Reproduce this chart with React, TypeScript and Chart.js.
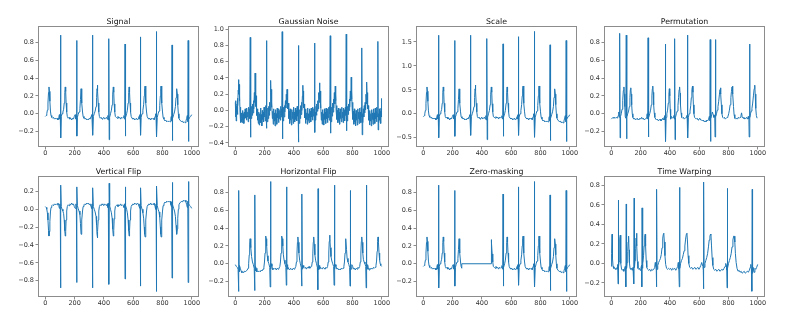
import React, { useEffect, useRef } from "react";
import { Chart, registerables } from "chart.js";
Chart.register(...registerables);

type P = [number, number][];

const xTicks = [0, 200, 400, 600, 800, 1000];
const signalTicks = [-0.2, 0, 0.2, 0.4, 0.6, 0.8];
const noiseTicks = [-0.4, -0.2, 0, 0.2, 0.4, 0.6, 0.8, 1.0];
const scaleTicks = [-0.5, 0, 0.5, 1.0, 1.5];
const vflipTicks = [-0.8, -0.6, -0.4, -0.2, 0, 0.2];
const warpTicks = [-0.2, 0, 0.2, 0.4, 0.6, 0.8];

const titles = ["Signal", "Gaussian Noise", "Scale", "Permutation", "Vertical Flip", "Horizontal Flip", "Zero-masking", "Time Warping"];

const signal: P = [[0,-0.03],[6,-0.02],[10,0.0],[14,0.04],[18,0.12],[22,0.24],[25,0.30],[28,0.25],[31,0.14],[35,0.03],[39,-0.02],[44,-0.04],[50,-0.05],[56,-0.04],[62,-0.06],[68,-0.05],[74,-0.06],[80,-0.05],[86,-0.07],[92,-0.04],[96,-0.01],[99,-0.06],[102,-0.03],[104,0.88],[106,-0.27],[109,-0.03],[114,0.0],[120,0.02],[125,0.05],[129,0.12],[133,0.24],[136,0.30],[139,0.25],[142,0.12],[146,0.02],[150,-0.03],[156,-0.05],[162,-0.04],[168,-0.06],[174,-0.05],[180,-0.07],[186,-0.05],[192,-0.06],[198,-0.03],[204,-0.01],[209,-0.06],[212,-0.02],[214,0.82],[216,-0.25],[219,-0.04],[224,-0.01],[230,0.02],[236,0.06],[240,0.16],[244,0.28],[247,0.24],[250,0.12],[254,0.02],[258,-0.03],[264,-0.05],[270,-0.06],[276,-0.05],[282,-0.07],[288,-0.06],[294,-0.07],[300,-0.05],[306,-0.06],[312,-0.03],[316,-0.01],[319,-0.06],[321,-0.02],[323,0.88],[325,-0.24],[328,-0.03],[334,0.0],[340,0.03],[346,0.08],[350,0.18],[353,0.28],[355,0.32],[358,0.25],[361,0.12],[365,0.02],[369,-0.03],[375,-0.05],[381,-0.04],[387,-0.06],[393,-0.05],[399,-0.04],[405,-0.06],[411,-0.05],[417,-0.04],[423,-0.06],[427,-0.02],[430,-0.07],[432,-0.03],[434,0.84],[436,-0.29],[439,-0.04],[445,0.0],[451,0.04],[456,0.10],[460,0.22],[464,0.30],[467,0.24],[470,0.11],[474,0.02],[478,-0.03],[484,-0.04],[490,-0.05],[496,-0.03],[502,-0.05],[508,-0.04],[514,-0.06],[520,-0.04],[526,-0.05],[532,-0.04],[537,-0.02],[540,-0.06],[542,-0.02],[544,0.78],[546,-0.25],[549,-0.04],[555,0.0],[560,0.04],[565,0.12],[569,0.24],[572,0.30],[575,0.24],[578,0.12],[582,0.02],[586,-0.03],[592,-0.05],[598,-0.06],[604,-0.05],[610,-0.07],[616,-0.06],[622,-0.05],[628,-0.07],[634,-0.06],[640,-0.03],[644,-0.01],[646,-0.06],[647,-0.02],[649,0.86],[651,-0.24],[654,-0.04],[660,0.0],[666,0.04],[671,0.10],[675,0.20],[678,0.28],[681,0.31],[684,0.24],[687,0.12],[691,0.02],[695,-0.03],[701,-0.05],[707,-0.06],[713,-0.05],[719,-0.07],[725,-0.05],[731,-0.06],[737,-0.05],[743,-0.07],[749,-0.03],[753,0.0],[756,-0.06],[757,-0.02],[759,0.92],[761,-0.26],[764,-0.04],[770,0.0],[776,0.03],[781,0.09],[785,0.20],[788,0.28],[790,0.31],[793,0.24],[796,0.12],[800,0.02],[804,-0.04],[810,-0.06],[816,-0.08],[822,-0.07],[828,-0.09],[834,-0.08],[840,-0.09],[846,-0.08],[852,-0.09],[857,-0.05],[860,-0.03],[862,-0.08],[863,-0.04],[865,0.77],[867,-0.30],[870,-0.05],[876,-0.01],[882,0.02],[888,0.08],[892,0.18],[895,0.25],[898,0.28],[901,0.22],[904,0.10],[908,0.0],[912,-0.05],[918,-0.07],[924,-0.08],[930,-0.09],[936,-0.08],[942,-0.10],[948,-0.09],[954,-0.10],[960,-0.08],[965,-0.05],[969,-0.02],[972,-0.09],[973,-0.05],[975,0.82],[977,-0.31],[980,-0.06],[986,-0.04],[992,-0.03],[999,-0.01]];

const gaussianNoise: P = [[0,0.10],[2,-0.08],[4,0.12],[6,-0.13],[8,0.05],[10,-0.02],[12,0.08],[14,-0.05],[16,0.15],[18,0.06],[20,0.25],[22,0.38],[24,0.20],[26,0.32],[28,0.12],[30,0.18],[32,-0.02],[34,0.04],[36,-0.15],[38,-0.02],[40,-0.14],[43,-0.03],[46,-0.15],[49,0.0],[52,-0.12],[55,-0.04],[58,-0.16],[61,-0.02],[64,-0.10],[67,0.02],[70,-0.09],[73,-0.01],[76,-0.12],[79,0.03],[82,-0.08],[85,-0.02],[88,-0.14],[91,0.04],[94,-0.06],[97,0.02],[100,-0.10],[102,0.90],[104,-0.33],[106,0.0],[109,-0.10],[112,0.05],[115,-0.06],[118,0.08],[121,-0.03],[124,0.12],[127,0.02],[130,0.22],[133,0.10],[135,0.46],[137,0.12],[139,0.22],[141,0.05],[143,0.18],[145,-0.06],[148,0.02],[151,-0.12],[154,-0.03],[157,-0.16],[160,-0.02],[163,-0.18],[166,-0.04],[169,-0.12],[172,0.03],[175,-0.15],[178,-0.05],[181,-0.19],[184,0.0],[187,-0.11],[190,-0.02],[193,-0.14],[196,0.04],[199,-0.08],[202,0.02],[205,-0.13],[208,0.06],[210,-0.05],[212,0.86],[214,-0.22],[216,-0.02],[219,-0.14],[222,0.03],[225,-0.10],[228,0.05],[231,-0.06],[234,0.10],[237,0.0],[240,0.20],[242,0.37],[244,0.14],[246,0.26],[248,0.04],[250,0.10],[253,-0.10],[256,-0.01],[259,-0.17],[262,0.02],[265,-0.13],[268,-0.03],[271,-0.19],[274,0.01],[277,-0.12],[280,-0.04],[283,-0.17],[286,0.03],[289,-0.09],[292,-0.01],[295,-0.15],[298,0.02],[301,-0.10],[304,0.0],[307,-0.12],[310,0.05],[313,-0.08],[316,0.02],[318,-0.06],[320,0.97],[322,-0.35],[324,-0.04],[327,-0.13],[330,0.04],[333,-0.08],[336,0.06],[339,-0.02],[342,0.12],[345,0.03],[348,0.20],[351,0.08],[353,0.26],[355,0.10],[357,0.22],[359,0.02],[362,0.09],[365,-0.10],[368,-0.01],[371,-0.16],[374,0.02],[377,-0.12],[380,-0.03],[383,-0.18],[386,0.01],[389,-0.10],[392,-0.02],[395,-0.16],[398,0.04],[401,-0.09],[404,-0.02],[407,-0.14],[410,0.03],[413,-0.11],[416,0.0],[419,-0.13],[422,0.05],[425,-0.07],[428,0.02],[430,0.80],[432,-0.39],[434,-0.05],[437,-0.16],[440,0.01],[443,-0.10],[446,0.06],[449,-0.05],[452,0.10],[455,0.0],[458,0.18],[461,0.31],[463,0.12],[465,0.24],[467,0.03],[470,0.08],[473,-0.09],[476,0.0],[479,-0.16],[482,0.02],[485,-0.11],[488,-0.03],[491,-0.17],[494,0.03],[497,-0.12],[500,-0.04],[503,-0.15],[506,0.02],[509,-0.09],[512,-0.01],[515,-0.14],[518,0.03],[521,-0.08],[524,0.01],[527,-0.12],[530,0.04],[533,-0.07],[536,0.02],[539,-0.10],[541,0.83],[543,-0.27],[545,-0.02],[548,-0.12],[551,0.05],[554,-0.06],[557,0.08],[560,-0.01],[563,0.12],[566,0.02],[569,0.22],[572,0.10],[575,0.34],[577,0.14],[579,0.24],[581,0.03],[584,0.08],[587,-0.12],[590,-0.02],[593,-0.17],[596,0.01],[599,-0.13],[602,-0.04],[605,-0.18],[608,0.02],[611,-0.11],[614,-0.02],[617,-0.16],[620,0.03],[623,-0.10],[626,-0.01],[629,-0.15],[632,0.02],[635,-0.09],[638,0.04],[641,-0.12],[644,0.05],[646,-0.04],[648,0.92],[650,-0.28],[652,-0.03],[655,-0.14],[658,0.04],[661,-0.07],[664,0.09],[667,-0.02],[670,0.14],[673,0.03],[676,0.22],[679,0.08],[682,0.30],[684,0.12],[686,0.20],[688,0.0],[691,0.06],[694,-0.11],[697,0.0],[700,-0.15],[703,0.03],[706,-0.12],[709,-0.02],[712,-0.17],[715,0.02],[718,-0.10],[721,-0.01],[724,-0.14],[727,0.04],[730,-0.09],[733,-0.02],[736,-0.15],[739,0.03],[742,-0.10],[745,0.01],[748,-0.13],[751,0.04],[754,-0.06],[757,0.94],[759,-0.25],[761,-0.03],[764,-0.13],[767,0.05],[770,-0.05],[773,0.08],[776,0.0],[779,0.14],[782,0.04],[785,0.24],[788,0.12],[791,0.41],[793,0.14],[795,0.25],[797,0.04],[800,0.10],[803,-0.11],[806,-0.01],[809,-0.17],[812,0.02],[815,-0.14],[818,-0.04],[821,-0.19],[824,0.0],[827,-0.12],[830,-0.03],[833,-0.18],[836,0.02],[839,-0.10],[842,-0.02],[845,-0.16],[848,0.03],[851,-0.12],[854,-0.02],[857,-0.15],[860,0.04],[862,-0.08],[864,0.77],[866,-0.30],[868,-0.04],[871,-0.15],[874,0.02],[877,-0.08],[880,0.06],[883,-0.03],[886,0.10],[889,0.01],[892,0.20],[895,0.08],[898,0.35],[900,0.12],[902,0.22],[904,0.02],[907,0.06],[910,-0.12],[913,-0.02],[916,-0.18],[919,0.0],[922,-0.13],[925,-0.04],[928,-0.19],[931,0.01],[934,-0.11],[937,-0.03],[940,-0.17],[943,0.02],[946,-0.12],[949,-0.03],[952,-0.16],[955,0.03],[958,-0.10],[961,-0.01],[964,-0.14],[967,0.04],[970,-0.08],[973,0.85],[975,-0.24],[977,-0.04],[980,-0.15],[983,0.02],[986,-0.12],[989,-0.01],[992,-0.16],[995,0.03],[997,-0.08],[999,0.15]];

const scaled: P = [[0,-0.06],[6,-0.04],[10,0.0],[14,0.07],[18,0.22],[22,0.45],[25,0.56],[28,0.47],[31,0.26],[35,0.06],[39,-0.04],[44,-0.07],[50,-0.09],[56,-0.07],[62,-0.11],[68,-0.09],[74,-0.11],[80,-0.09],[86,-0.13],[92,-0.07],[96,-0.02],[99,-0.11],[102,-0.06],[104,1.64],[106,-0.50],[109,-0.06],[114,0.0],[120,0.04],[125,0.09],[129,0.22],[133,0.45],[136,0.56],[139,0.47],[142,0.22],[146,0.04],[150,-0.06],[156,-0.09],[162,-0.07],[168,-0.11],[174,-0.09],[180,-0.13],[186,-0.09],[192,-0.11],[198,-0.06],[204,-0.02],[209,-0.11],[212,-0.04],[214,1.53],[216,-0.47],[219,-0.07],[224,-0.02],[230,0.04],[236,0.11],[240,0.30],[244,0.52],[247,0.45],[250,0.22],[254,0.04],[258,-0.06],[264,-0.09],[270,-0.11],[276,-0.09],[282,-0.13],[288,-0.11],[294,-0.13],[300,-0.09],[306,-0.11],[312,-0.06],[316,-0.02],[319,-0.11],[321,-0.04],[323,1.64],[325,-0.45],[328,-0.06],[334,0.0],[340,0.06],[346,0.15],[350,0.34],[353,0.52],[355,0.60],[358,0.47],[361,0.22],[365,0.04],[369,-0.06],[375,-0.09],[381,-0.07],[387,-0.11],[393,-0.09],[399,-0.07],[405,-0.11],[411,-0.09],[417,-0.07],[423,-0.11],[427,-0.04],[430,-0.13],[432,-0.06],[434,1.57],[436,-0.54],[439,-0.07],[445,0.0],[451,0.07],[456,0.19],[460,0.41],[464,0.56],[467,0.45],[470,0.21],[474,0.04],[478,-0.06],[484,-0.07],[490,-0.09],[496,-0.06],[502,-0.09],[508,-0.07],[514,-0.11],[520,-0.07],[526,-0.09],[532,-0.07],[537,-0.04],[540,-0.11],[542,-0.04],[544,1.46],[546,-0.47],[549,-0.07],[555,0.0],[560,0.07],[565,0.22],[569,0.45],[572,0.56],[575,0.45],[578,0.22],[582,0.04],[586,-0.06],[592,-0.09],[598,-0.11],[604,-0.09],[610,-0.13],[616,-0.11],[622,-0.09],[628,-0.13],[634,-0.11],[640,-0.06],[644,-0.02],[646,-0.11],[647,-0.04],[649,1.61],[651,-0.45],[654,-0.07],[660,0.0],[666,0.07],[671,0.19],[675,0.37],[678,0.52],[681,0.58],[684,0.45],[687,0.22],[691,0.04],[695,-0.06],[701,-0.09],[707,-0.11],[713,-0.09],[719,-0.13],[725,-0.09],[731,-0.11],[737,-0.09],[743,-0.13],[749,-0.06],[753,0.0],[756,-0.11],[757,-0.04],[759,1.72],[761,-0.49],[764,-0.07],[770,0.0],[776,0.06],[781,0.17],[785,0.37],[788,0.52],[790,0.58],[793,0.45],[796,0.22],[800,0.04],[804,-0.07],[810,-0.11],[816,-0.15],[822,-0.13],[828,-0.17],[834,-0.15],[840,-0.17],[846,-0.15],[852,-0.17],[857,-0.09],[860,-0.06],[862,-0.15],[863,-0.07],[865,1.44],[867,-0.56],[870,-0.09],[876,-0.02],[882,0.04],[888,0.15],[892,0.34],[895,0.47],[898,0.52],[901,0.41],[904,0.19],[908,0.0],[912,-0.09],[918,-0.13],[924,-0.15],[930,-0.17],[936,-0.15],[942,-0.19],[948,-0.17],[954,-0.19],[960,-0.15],[965,-0.09],[969,-0.04],[972,-0.17],[973,-0.09],[975,1.53],[977,-0.58],[980,-0.11],[986,-0.07],[992,-0.06],[999,-0.02]];

const permutation: P = [[0,-0.06],[6,-0.05],[12,-0.04],[18,-0.05],[24,-0.04],[30,-0.05],[36,-0.04],[42,-0.05],[47,-0.02],[51,0.02],[54,-0.04],[56,-0.02],[58,0.90],[60,-0.27],[63,-0.03],[68,0.0],[73,0.05],[78,0.15],[82,0.26],[86,0.30],[89,0.22],[92,0.08],[95,-0.03],[98,-0.05],[100,-0.02],[102,0.88],[104,-0.28],[107,-0.03],[112,0.0],[118,0.03],[123,0.08],[127,0.18],[130,0.27],[133,0.29],[136,0.22],[139,0.10],[143,0.0],[147,-0.04],[153,-0.06],[159,-0.05],[165,-0.07],[171,-0.06],[177,-0.05],[183,-0.07],[189,-0.06],[195,-0.05],[201,-0.06],[207,-0.04],[213,-0.06],[219,-0.05],[225,-0.07],[231,-0.06],[237,-0.05],[242,-0.03],[245,0.0],[248,-0.06],[249,-0.02],[251,0.85],[253,-0.26],[256,-0.04],[262,0.0],[268,0.04],[273,0.10],[277,0.20],[280,0.28],[283,0.31],[286,0.24],[289,0.10],[293,0.01],[297,-0.04],[303,-0.06],[309,-0.07],[315,-0.06],[321,-0.08],[327,-0.07],[333,-0.06],[339,-0.08],[345,-0.07],[351,-0.05],[357,-0.07],[361,-0.04],[364,-0.02],[366,-0.07],[367,-0.03],[369,0.78],[371,-0.31],[374,-0.04],[379,0.0],[384,0.04],[389,0.12],[393,0.22],[396,0.28],[399,0.20],[402,0.05],[405,-0.06],[410,-0.03],[416,-0.05],[422,-0.04],[427,-0.02],[430,-0.06],[431,-0.03],[433,0.84],[435,-0.29],[438,-0.04],[444,0.0],[450,0.03],[455,0.09],[459,0.18],[463,0.27],[466,0.30],[469,0.23],[472,0.10],[476,0.01],[480,-0.04],[486,-0.05],[492,-0.04],[498,-0.06],[504,-0.05],[510,-0.04],[515,-0.02],[518,-0.06],[519,-0.02],[521,0.88],[523,-0.27],[526,-0.04],[531,0.0],[537,0.03],[542,0.09],[546,0.18],[550,0.27],[554,0.31],[557,0.24],[560,0.10],[564,0.0],[568,-0.04],[574,-0.05],[580,-0.06],[586,-0.05],[592,-0.07],[598,-0.06],[604,-0.05],[610,-0.07],[616,-0.07],[622,-0.08],[628,-0.07],[634,-0.09],[640,-0.08],[646,-0.09],[652,-0.07],[658,-0.08],[664,-0.06],[669,-0.03],[672,-0.08],[673,-0.04],[675,0.83],[677,-0.31],[680,-0.05],[685,-0.01],[690,0.02],[695,-0.01],[700,-0.04],[704,-0.02],[706,-0.04],[708,-0.26],[711,0.83],[713,-0.03],[718,0.0],[723,0.04],[728,0.08],[733,0.14],[738,0.22],[742,0.27],[745,0.29],[748,0.22],[751,0.10],[755,0.0],[760,-0.04],[766,-0.05],[772,-0.04],[778,-0.06],[784,-0.05],[790,-0.04],[796,-0.03],[801,0.0],[806,0.04],[811,0.10],[816,0.18],[820,0.25],[824,0.30],[827,0.31],[830,0.22],[834,0.08],[838,-0.01],[843,-0.05],[849,-0.06],[855,-0.05],[861,-0.06],[867,-0.04],[873,-0.05],[879,-0.04],[885,-0.02],[889,0.01],[893,-0.03],[899,-0.05],[905,-0.04],[911,-0.06],[917,-0.05],[923,-0.04],[929,-0.06],[935,-0.03],[939,-0.06],[941,-0.26],[944,0.78],[946,-0.04],[950,0.0],[955,0.03],[960,0.06],[965,0.12],[970,0.20],[975,0.28],[979,0.32],[982,0.22],[986,0.06],[990,-0.02],[995,-0.05],[999,-0.05]];

const verticalFlip: P = [[0,0.03],[6,0.02],[10,0.0],[14,-0.04],[18,-0.12],[22,-0.24],[25,-0.30],[28,-0.25],[31,-0.14],[35,-0.03],[39,0.02],[44,0.04],[50,0.05],[56,0.04],[62,0.06],[68,0.05],[74,0.06],[80,0.05],[86,0.07],[92,0.04],[96,0.01],[99,0.06],[102,0.03],[104,-0.88],[106,0.27],[109,0.03],[114,0.0],[120,-0.02],[125,-0.05],[129,-0.12],[133,-0.24],[136,-0.30],[139,-0.25],[142,-0.12],[146,-0.02],[150,0.03],[156,0.05],[162,0.04],[168,0.06],[174,0.05],[180,0.07],[186,0.05],[192,0.06],[198,0.03],[204,0.01],[209,0.06],[212,0.02],[214,-0.82],[216,0.25],[219,0.04],[224,0.01],[230,-0.02],[236,-0.06],[240,-0.16],[244,-0.28],[247,-0.24],[250,-0.12],[254,-0.02],[258,0.03],[264,0.05],[270,0.06],[276,0.05],[282,0.07],[288,0.06],[294,0.07],[300,0.05],[306,0.06],[312,0.03],[316,0.01],[319,0.06],[321,0.02],[323,-0.88],[325,0.24],[328,0.03],[334,0.0],[340,-0.03],[346,-0.08],[350,-0.18],[353,-0.28],[355,-0.32],[358,-0.25],[361,-0.12],[365,-0.02],[369,0.03],[375,0.05],[381,0.04],[387,0.06],[393,0.05],[399,0.04],[405,0.06],[411,0.05],[417,0.04],[423,0.06],[427,0.02],[430,0.07],[432,0.03],[434,-0.84],[436,0.29],[439,0.04],[445,0.0],[451,-0.04],[456,-0.10],[460,-0.22],[464,-0.30],[467,-0.24],[470,-0.11],[474,-0.02],[478,0.03],[484,0.04],[490,0.05],[496,0.03],[502,0.05],[508,0.04],[514,0.06],[520,0.04],[526,0.05],[532,0.04],[537,0.02],[540,0.06],[542,0.02],[544,-0.78],[546,0.25],[549,0.04],[555,0.0],[560,-0.04],[565,-0.12],[569,-0.24],[572,-0.30],[575,-0.24],[578,-0.12],[582,-0.02],[586,0.03],[592,0.05],[598,0.06],[604,0.05],[610,0.07],[616,0.06],[622,0.05],[628,0.07],[634,0.06],[640,0.03],[644,0.01],[646,0.06],[647,0.02],[649,-0.86],[651,0.24],[654,0.04],[660,0.0],[666,-0.04],[671,-0.10],[675,-0.20],[678,-0.28],[681,-0.31],[684,-0.24],[687,-0.12],[691,-0.02],[695,0.03],[701,0.05],[707,0.06],[713,0.05],[719,0.07],[725,0.05],[731,0.06],[737,0.05],[743,0.07],[749,0.03],[753,0.0],[756,0.06],[757,0.02],[759,-0.92],[761,0.26],[764,0.04],[770,0.0],[776,-0.03],[781,-0.09],[785,-0.20],[788,-0.28],[790,-0.31],[793,-0.24],[796,-0.12],[800,-0.02],[804,0.04],[810,0.06],[816,0.08],[822,0.07],[828,0.09],[834,0.08],[840,0.09],[846,0.08],[852,0.09],[857,0.05],[860,0.03],[862,0.08],[863,0.04],[865,-0.77],[867,0.30],[870,0.05],[876,0.01],[882,-0.02],[888,-0.08],[892,-0.18],[895,-0.25],[898,-0.28],[901,-0.22],[904,-0.10],[908,0.0],[912,0.05],[918,0.07],[924,0.08],[930,0.09],[936,0.08],[942,0.10],[948,0.09],[954,0.10],[960,0.08],[965,0.05],[969,0.02],[972,0.09],[973,0.05],[975,-0.82],[977,0.31],[980,0.06],[986,0.04],[992,0.03],[999,0.01]];

const horizontalFlip: P = [[0,-0.01],[7,-0.03],[13,-0.04],[19,-0.06],[22,-0.31],[24,0.82],[26,-0.05],[27,-0.09],[30,-0.02],[34,-0.05],[39,-0.08],[45,-0.10],[51,-0.09],[57,-0.10],[63,-0.08],[69,-0.09],[75,-0.08],[81,-0.07],[87,-0.05],[91,0.0],[95,0.10],[98,0.22],[101,0.28],[104,0.25],[107,0.18],[111,0.08],[117,0.02],[123,-0.01],[129,-0.05],[132,-0.30],[134,0.77],[136,-0.04],[137,-0.08],[139,-0.03],[142,-0.05],[147,-0.09],[153,-0.08],[159,-0.09],[165,-0.08],[171,-0.09],[177,-0.07],[183,-0.08],[189,-0.06],[195,-0.04],[199,0.02],[203,0.12],[206,0.24],[209,0.31],[211,0.28],[214,0.20],[218,0.09],[223,0.03],[229,0.0],[235,-0.04],[238,-0.26],[240,0.92],[242,-0.02],[243,-0.06],[246,0.0],[250,-0.03],[256,-0.07],[262,-0.05],[268,-0.06],[274,-0.05],[280,-0.07],[286,-0.05],[292,-0.06],[298,-0.05],[304,-0.03],[308,0.02],[312,0.12],[315,0.24],[318,0.31],[321,0.28],[324,0.20],[328,0.10],[333,0.04],[339,0.0],[345,-0.04],[348,-0.24],[350,0.86],[352,-0.02],[353,-0.06],[355,-0.01],[359,-0.03],[365,-0.06],[371,-0.07],[377,-0.05],[383,-0.06],[389,-0.07],[395,-0.05],[401,-0.06],[407,-0.05],[413,-0.03],[417,0.02],[421,0.12],[424,0.24],[427,0.30],[430,0.24],[434,0.12],[439,0.04],[444,0.0],[450,-0.04],[453,-0.25],[455,0.78],[457,-0.02],[459,-0.06],[462,-0.02],[467,-0.04],[473,-0.05],[479,-0.04],[485,-0.06],[491,-0.04],[497,-0.05],[503,-0.03],[509,-0.05],[515,-0.04],[521,-0.03],[525,0.02],[529,0.11],[532,0.24],[535,0.30],[539,0.22],[543,0.10],[548,0.04],[554,0.0],[560,-0.04],[563,-0.29],[565,0.84],[567,-0.03],[569,-0.07],[572,-0.02],[576,-0.06],[582,-0.04],[588,-0.05],[594,-0.06],[600,-0.04],[606,-0.05],[612,-0.06],[618,-0.04],[624,-0.05],[630,-0.03],[634,0.02],[638,0.12],[641,0.25],[644,0.32],[646,0.28],[649,0.18],[653,0.08],[659,0.03],[665,0.0],[671,-0.03],[674,-0.24],[676,0.88],[678,-0.02],[680,-0.06],[683,-0.01],[687,-0.03],[693,-0.06],[699,-0.05],[705,-0.07],[711,-0.06],[717,-0.07],[723,-0.05],[729,-0.06],[735,-0.05],[741,-0.03],[745,0.02],[749,0.12],[752,0.24],[755,0.28],[759,0.16],[763,0.06],[769,0.02],[775,-0.01],[780,-0.04],[783,-0.25],[785,0.82],[787,-0.02],[790,-0.06],[795,-0.01],[801,-0.03],[807,-0.06],[813,-0.05],[819,-0.07],[825,-0.05],[831,-0.06],[837,-0.04],[843,-0.05],[849,-0.03],[853,0.02],[857,0.12],[860,0.25],[863,0.30],[866,0.24],[870,0.12],[874,0.05],[879,0.02],[885,0.0],[890,-0.03],[893,-0.27],[895,0.88],[897,-0.03],[900,-0.06],[903,-0.01],[907,-0.04],[913,-0.07],[919,-0.05],[925,-0.06],[931,-0.05],[937,-0.06],[943,-0.04],[949,-0.05],[955,-0.04],[960,-0.02],[964,0.03],[968,0.14],[971,0.25],[974,0.30],[977,0.24],[981,0.12],[985,0.04],[989,0.0],[993,-0.02],[999,-0.03]];

const zeroMasking: P = [[0,-0.03],[6,-0.02],[10,0.0],[14,0.04],[18,0.12],[22,0.24],[25,0.30],[28,0.25],[31,0.14],[35,0.03],[39,-0.02],[44,-0.04],[50,-0.05],[56,-0.04],[62,-0.06],[68,-0.05],[74,-0.06],[80,-0.05],[86,-0.07],[92,-0.04],[96,-0.01],[99,-0.06],[102,-0.03],[104,0.88],[106,-0.27],[109,-0.03],[114,0.0],[120,0.02],[125,0.05],[129,0.12],[133,0.24],[136,0.30],[139,0.25],[142,0.12],[146,0.02],[150,-0.03],[156,-0.05],[162,-0.04],[168,-0.06],[174,-0.05],[180,-0.07],[186,-0.05],[192,-0.06],[198,-0.03],[204,-0.01],[209,-0.06],[212,-0.02],[214,0.82],[216,-0.25],[219,-0.04],[224,-0.01],[230,0.02],[236,0.06],[240,0.16],[244,0.28],[247,0.24],[250,0.12],[254,0.02],[258,-0.03],[262,-0.05],[263,0.0],[462,0.0],[463,0.26],[465,0.27],[467,0.24],[470,0.11],[474,0.02],[478,-0.03],[484,-0.04],[490,-0.05],[496,-0.03],[502,-0.05],[508,-0.04],[514,-0.06],[520,-0.04],[526,-0.05],[532,-0.04],[537,-0.02],[540,-0.06],[542,-0.02],[544,0.78],[546,-0.25],[549,-0.04],[555,0.0],[560,0.04],[565,0.12],[569,0.24],[572,0.30],[575,0.24],[578,0.12],[582,0.02],[586,-0.03],[592,-0.05],[598,-0.06],[604,-0.05],[610,-0.07],[616,-0.06],[622,-0.05],[628,-0.07],[634,-0.06],[640,-0.03],[644,-0.01],[646,-0.06],[647,-0.02],[649,0.86],[651,-0.24],[654,-0.04],[660,0.0],[666,0.04],[671,0.10],[675,0.20],[678,0.28],[681,0.31],[684,0.24],[687,0.12],[691,0.02],[695,-0.03],[701,-0.05],[707,-0.06],[713,-0.05],[719,-0.07],[725,-0.05],[731,-0.06],[737,-0.05],[743,-0.07],[749,-0.03],[753,0.0],[756,-0.06],[757,-0.02],[759,0.92],[761,-0.26],[764,-0.04],[770,0.0],[776,0.03],[781,0.09],[785,0.20],[788,0.28],[790,0.31],[793,0.24],[796,0.12],[800,0.02],[804,-0.04],[810,-0.06],[816,-0.08],[822,-0.07],[828,-0.09],[834,-0.08],[840,-0.09],[846,-0.08],[852,-0.09],[857,-0.05],[860,-0.03],[862,-0.08],[863,-0.04],[865,0.77],[867,-0.30],[870,-0.05],[876,-0.01],[882,0.02],[888,0.08],[892,0.18],[895,0.25],[898,0.28],[901,0.22],[904,0.10],[908,0.0],[912,-0.05],[918,-0.07],[924,-0.08],[930,-0.09],[936,-0.08],[942,-0.10],[948,-0.09],[954,-0.10],[960,-0.08],[965,-0.05],[969,-0.02],[972,-0.09],[973,-0.05],[975,0.82],[977,-0.31],[980,-0.06],[986,-0.04],[992,-0.03],[999,-0.01]];

const timeWarping: P = [[0,-0.03],[2,0.10],[5,0.30],[7,0.22],[9,0.05],[12,-0.03],[16,-0.05],[21,-0.04],[26,-0.06],[31,-0.05],[36,-0.06],[40,-0.04],[43,-0.01],[45,-0.06],[46,-0.21],[48,0.65],[50,-0.04],[53,0.02],[56,0.12],[59,0.25],[61,0.29],[63,0.16],[66,0.0],[70,-0.06],[75,-0.07],[80,-0.06],[85,-0.08],[90,-0.06],[95,-0.03],[98,-0.07],[100,-0.24],[102,0.61],[104,-0.05],[108,0.01],[112,0.12],[115,0.22],[118,0.28],[121,0.14],[124,0.0],[128,-0.05],[133,-0.06],[138,-0.05],[143,-0.07],[148,-0.04],[152,-0.06],[154,-0.21],[156,0.67],[158,-0.04],[162,0.03],[166,0.15],[169,0.26],[172,0.31],[175,0.18],[178,0.02],[182,-0.05],[187,-0.06],[192,-0.05],[197,-0.07],[202,-0.05],[206,-0.02],[208,-0.24],[210,0.57],[212,-0.05],[216,0.01],[220,0.08],[224,0.18],[228,0.27],[231,0.30],[234,0.18],[238,0.03],[242,-0.04],[248,-0.06],[255,-0.07],[262,-0.06],[269,-0.08],[276,-0.06],[283,-0.07],[290,-0.06],[296,-0.04],[300,0.01],[304,-0.03],[307,-0.07],[308,-0.24],[310,0.76],[312,-0.06],[317,-0.02],[323,0.01],[329,0.03],[335,0.05],[341,0.09],[346,0.16],[351,0.26],[355,0.30],[358,0.31],[362,0.22],[366,0.08],[371,-0.01],[377,-0.05],[384,-0.06],[391,-0.05],[398,-0.06],[405,-0.05],[412,-0.07],[419,-0.05],[426,-0.06],[433,-0.05],[440,-0.07],[447,-0.05],[453,-0.03],[457,0.01],[461,-0.06],[464,-0.24],[466,0.78],[468,-0.05],[473,0.0],[479,0.03],[485,0.05],[491,0.09],[497,0.13],[502,0.18],[507,0.25],[512,0.30],[516,0.31],[520,0.22],[524,0.08],[529,0.0],[535,-0.04],[542,-0.05],[549,-0.04],[556,-0.06],[563,-0.05],[570,-0.04],[577,-0.06],[584,-0.05],[591,-0.04],[598,-0.06],[605,-0.04],[611,-0.02],[617,0.01],[625,-0.03],[628,-0.07],[629,-0.26],[631,0.835],[633,-0.04],[639,0.0],[645,0.03],[651,0.06],[657,0.10],[663,0.17],[668,0.24],[673,0.28],[677,0.30],[680,0.29],[684,0.18],[688,0.06],[693,-0.02],[699,-0.06],[706,-0.07],[713,-0.06],[720,-0.08],[727,-0.07],[734,-0.06],[741,-0.08],[748,-0.07],[755,-0.06],[762,-0.07],[769,-0.05],[776,-0.03],[781,0.0],[785,-0.02],[788,-0.07],[790,-0.25],[792,0.77],[794,-0.05],[800,0.0],[806,0.03],[812,0.06],[818,0.10],[824,0.17],[830,0.24],[835,0.28],[839,0.28],[843,0.22],[847,0.10],[852,0.01],[858,-0.05],[865,-0.08],[872,-0.07],[879,-0.09],[886,-0.08],[893,-0.10],[900,-0.09],[907,-0.08],[914,-0.10],[921,-0.09],[928,-0.08],[935,-0.09],[942,-0.07],[948,-0.04],[952,-0.01],[956,-0.06],[958,-0.10],[960,-0.285],[962,0.76],[964,-0.10],[968,-0.04],[974,-0.09],[980,-0.05],[986,-0.06],[992,-0.04],[999,-0.01]];

const series: P[] = [signal, gaussianNoise, scaled, permutation, verticalFlip, horizontalFlip, zeroMasking, timeWarping];
const yRanges: [number, number][] = [[-0.372, 0.982], [-0.45, 1.04], [-0.694, 1.833], [-0.372, 0.982], [-0.982, 0.372], [-0.372, 0.982], [-0.372, 0.982], [-0.344, 0.897]];
const yTickSets: number[][] = [signalTicks, noiseTicks, scaleTicks, signalTicks, vflipTicks, signalTicks, signalTicks, warpTicks];

const COL_LEFT = [38, 228, 416, 604];
const ROW_TOP = [26, 176];
const W = 161;
const H = 121;
const PADL = 36;
const PADT = 20;
const PADR = 14;
const PADB = 16;
const X_MIN = -49.95;
const X_MAX = 1048.95;

const fmtY = (v: number) => Number(v).toFixed(1).replace("-", "\u2212");

function Panel({ idx }: { idx: number }) {
  const ref = useRef<HTMLCanvasElement>(null);
  const left = COL_LEFT[idx % 4];
  const top = ROW_TOP[Math.floor(idx / 4)];
  useEffect(() => {
    const canvas = ref.current;
    if (!canvas) return;
    const title = titles[idx];
    const deco = {
      id: "deco" + idx,
      afterDraw(chart: any) {
        const { ctx, chartArea: a } = chart;
        ctx.save();
        ctx.strokeStyle = "#8c8c8c";
        ctx.lineWidth = 1;
        ctx.strokeRect(a.left + 0.5, a.top + 0.5, a.right - a.left - 1, a.bottom - a.top - 1);
        ctx.fillStyle = "#111";
        ctx.font = '7.8px "DejaVu Sans"';
        ctx.textAlign = "center";
        ctx.textBaseline = "alphabetic";
        ctx.fillText(title, (a.left + a.right) / 2, a.top - 2.5);
        ctx.restore();
      },
    };
    const yt = yTickSets[idx];
    const chart = new Chart(canvas, {
      type: "line",
      data: {
        datasets: [
          {
            data: series[idx].map(([x, y]) => ({ x, y })),
            borderColor: "#1f77b4",
            borderWidth: 1,
            pointRadius: 0,
            tension: 0,
            fill: false,
            borderJoinStyle: "round",
          },
        ],
      },
      options: {
        responsive: false,
        animation: false,
        events: [],
        layout: { padding: { left: 0, top: PADT, right: PADR, bottom: 0 } },
        plugins: { legend: { display: false }, tooltip: { enabled: false }, title: { display: false } },
        scales: {
          x: {
            type: "linear",
            min: X_MIN,
            max: X_MAX,
            afterBuildTicks: (ax: any) => {
              ax.ticks = xTicks.map((v) => ({ value: v }));
            },
            afterFit: (ax: any) => {
              ax.height = PADB;
            },
            grid: { drawOnChartArea: false, drawTicks: true, tickLength: 2.5, color: "#8c8c8c", lineWidth: 1 },
            border: { display: false },
            ticks: {
              autoSkip: false,
              maxRotation: 0,
              minRotation: 0,
              padding: -0.5,
              color: "#333",
              font: { family: "DejaVu Sans", size: 6.5 },
              callback: (v: any) => String(v),
            },
          },
          y: {
            type: "linear",
            min: yRanges[idx][0],
            max: yRanges[idx][1],
            afterBuildTicks: (ax: any) => {
              ax.ticks = yt.map((v) => ({ value: v }));
            },
            afterFit: (ax: any) => {
              ax.width = PADL;
            },
            grid: { drawOnChartArea: false, drawTicks: true, tickLength: 2.5, color: "#8c8c8c", lineWidth: 1 },
            border: { display: false },
            ticks: {
              autoSkip: false,
              padding: 1.5,
              color: "#333",
              font: { family: "DejaVu Sans", size: 6.5 },
              callback: (v: any) => fmtY(v),
            },
          },
        },
      },
      plugins: [deco],
    } as any);
    return () => chart.destroy();
  }, [idx]);
  const cw = PADL + W + PADR;
  const ch = PADT + H + PADB;
  return (
    <canvas
      ref={ref}
      width={cw}
      height={ch}
      style={{ position: "absolute", left: left - PADL, top: top - PADT, width: cw, height: ch }}
    />
  );
}

export default function App() {
  return (
    <div style={{ position: "fixed", left: 0, top: 0, width: 797, height: 328, background: "#fff", overflow: "hidden" }}>
      {titles.map((_, i) => (
        <Panel key={i} idx={i} />
      ))}
    </div>
  );
}
